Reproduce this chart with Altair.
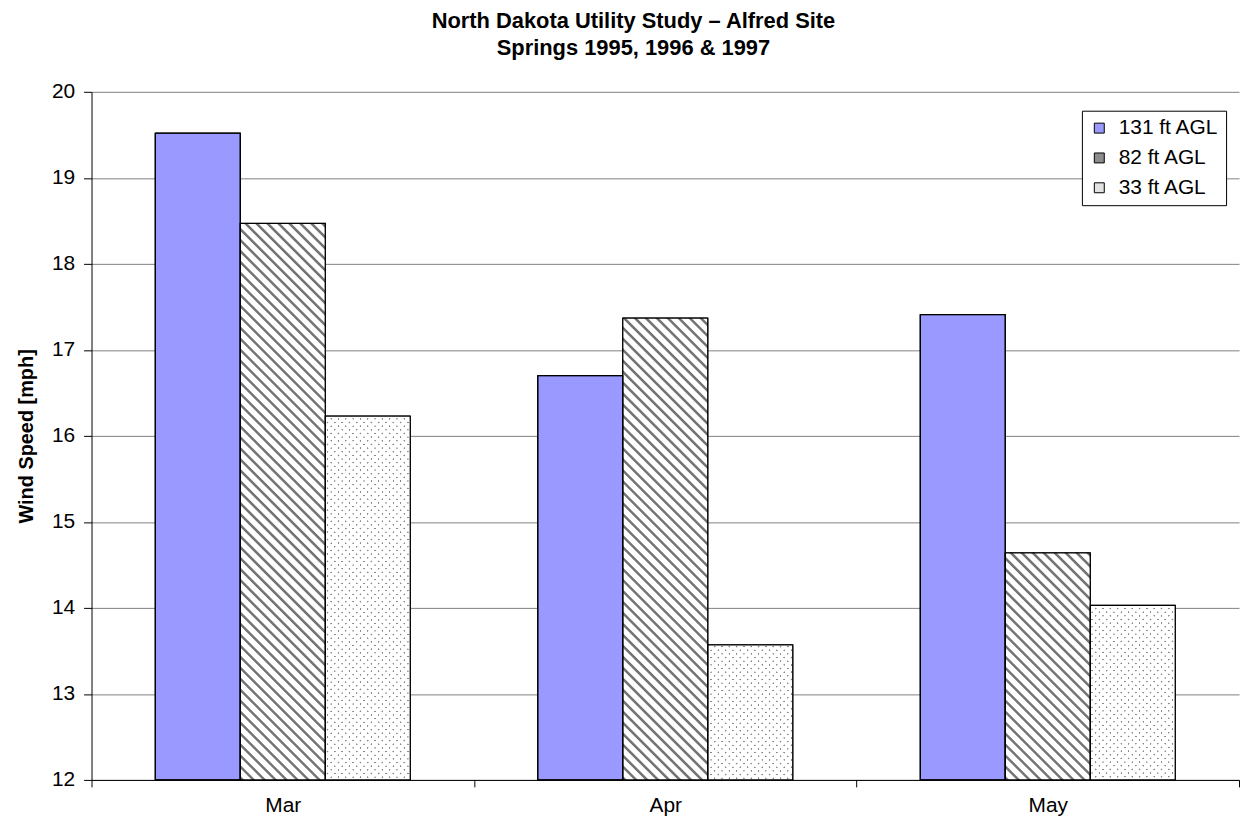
import math
import altair as alt
import pandas as pd

# ---------------- data ----------------
months = ["Mar", "Apr", "May"]
series = ["131 ft AGL", "82 ft AGL", "33 ft AGL"]
speed_131 = [19.52, 16.70, 17.41]
speed_82 = [18.47, 17.37, 14.64]
speed_33 = [16.23, 13.57, 14.03]
y_ticks = [12, 13, 14, 15, 16, 17, 18, 19, 20]
title_lines = ["North Dakota Utility Study \u2013 Alfred Site", "Springs 1995, 1996 & 1997"]
y_title = "Wind Speed [mph]"

# ---------------- layout / style ----------------
W, H = 1154, 692
Y_MIN, Y_MAX = 12, 20
OFF_PAD_OUTER = 0.75   # gap around each month group (in bar widths)
FONT = "Liberation Sans, Arial, Helvetica, sans-serif"
legend_colors = ["#9999FF", "#8c8c8c", "#e2e2e2"]

values = {"131 ft AGL": speed_131, "82 ft AGL": speed_82, "33 ft AGL": speed_33}
rows = []
for s in series:
    for m, v in zip(months, values[s]):
        rows.append({"month": m, "series": s, "value": v, "base": Y_MIN})
df = pd.DataFrame(rows)

# pixel size of one bar (used only to shape the fill patterns)
step = W / len(months)
bar_w = step / (len(series) + 2 * OFF_PAD_OUTER)


def bar_h(v):
    return (v - Y_MIN) / (Y_MAX - Y_MIN) * H


def stripe_gradient(w, h, period, band, soft, c_on, c_off, direction, phase=0.0):
    """Linear gradient (bbox units) producing 45deg stripes on a w x h bar."""
    s = (w + h) / (w * w + h * h)
    if direction == "back":   # "\" stripes
        x1, y1, x2, y2 = 0.0, 1.0, s * w, 1.0 - s * h
    else:                     # "/" stripes
        x1, y1, x2, y2 = 0.0, 0.0, s * w, s * h
    length = (w + h) / math.sqrt(2)
    stops = []

    def add(px, color):
        t = min(max(px / length, 0.0), 1.0)
        if stops and t < stops[-1]["offset"]:
            t = stops[-1]["offset"]
        stops.append({"offset": round(t, 6), "color": color})

    add(0.0, c_off)
    start = phase
    while start < length:
        add(start, c_off)
        add(start + soft, c_on)
        add(start + band - soft, c_on)
        add(start + band, c_off)
        start += period
    add(length, c_off)
    return {"gradient": "linear", "x1": x1, "y1": y1, "x2": x2, "y2": y2, "stops": stops}


x_enc = alt.X(
    "month:N",
    sort=months,
    scale=alt.Scale(domain=months, paddingInner=0, paddingOuter=0),
    axis=alt.Axis(
        title=None, labelAngle=0, tickBand="extent", tickSize=7, labelPadding=8,
        grid=False, domainColor="black", tickColor="black",
    ),
)
xo_enc = alt.XOffset(
    "series:N", sort=series,
    scale=alt.Scale(domain=series, paddingInner=0, paddingOuter=OFF_PAD_OUTER),
)
y_enc = alt.Y(
    "value:Q",
    scale=alt.Scale(domain=[Y_MIN, Y_MAX], zero=False, nice=False),
    axis=alt.Axis(
        values=y_ticks, format="d", title=y_title, tickSize=8, labelPadding=9,
        titlePadding=15, grid=True, gridColor="#808080", domainColor="black", tickColor="black",
    ),
)
y2_enc = alt.Y2("base:Q")

base = alt.Chart(df).mark_bar(stroke="black", strokeWidth=1).encode(
    x=x_enc, xOffset=xo_enc, y=y_enc, y2=y2_enc,
    color=alt.Color(
        "series:N", sort=series,
        scale=alt.Scale(domain=series, range=legend_colors),
        legend=alt.Legend(
            title=None, orient="none", legendX=996, legendY=19,
            symbolType="square", symbolSize=100, symbolStrokeColor="black",
            symbolStrokeWidth=1, labelFontSize=21, labelFont=FONT, labelColor="black",
            labelOffset=9, rowPadding=8, padding=7, strokeColor="black",
            fillColor="white", cornerRadius=0,
        ),
    ),
)

layers = [base]

# diagonal stripes for 82 ft
for m, v in zip(months, speed_82):
    g = stripe_gradient(bar_w, bar_h(v), period=7.8, band=3.4, soft=0.9,
                        c_on="#747474", c_off="#ffffff", direction="back")
    layers.append(
        alt.Chart(df).transform_filter(
            (alt.datum.month == m) & (alt.datum.series == "82 ft AGL")
        ).mark_bar(fill=g, strokeWidth=0).encode(x=x_enc, xOffset=xo_enc, y=y_enc, y2=y2_enc)
    )

# dotted fill for 33 ft: gray "\" lines masked by white "/" bands
for m, v in zip(months, speed_33):
    hh = bar_h(v)
    g1 = stripe_gradient(bar_w, hh, period=5.2, band=1.9, soft=0.5,
                         c_on="#888888", c_off="#ffffff", direction="back")
    g2 = stripe_gradient(bar_w, hh, period=5.2, band=1.9, soft=0.5,
                         c_on="rgba(255,255,255,0)", c_off="#ffffff", direction="fwd")
    for g in (g1, g2):
        layers.append(
            alt.Chart(df).transform_filter(
                (alt.datum.month == m) & (alt.datum.series == "33 ft AGL")
            ).mark_bar(fill=g, strokeWidth=0).encode(x=x_enc, xOffset=xo_enc, y=y_enc, y2=y2_enc)
        )

outline = alt.Chart(df).mark_bar(fill="white", fillOpacity=0, stroke="black", strokeWidth=1.3).encode(
    x=x_enc, xOffset=xo_enc, y=y_enc, y2=y2_enc
)
layers.append(outline)

chart = alt.layer(*layers).properties(
    width=W,
    height=H,
    padding={"left": 8, "top": 0, "right": 0, "bottom": 0},
    background="white",
    title=alt.TitleParams(
        text=title_lines, fontSize=22, fontWeight="bold", font=FONT, color="black",
        lineHeight=27, anchor="middle", offset=21, dx=-32,
    ),
).configure_axis(
    labelFont=FONT, labelFontSize=21, labelColor="black",
    titleFont=FONT, titleFontSize=20, titleFontWeight="bold", titleColor="black",
    domainWidth=1, tickWidth=1, gridWidth=1,
).configure_view(strokeWidth=0)

chart.save("out.html", embed_options={"renderer": "svg", "actions": False})
